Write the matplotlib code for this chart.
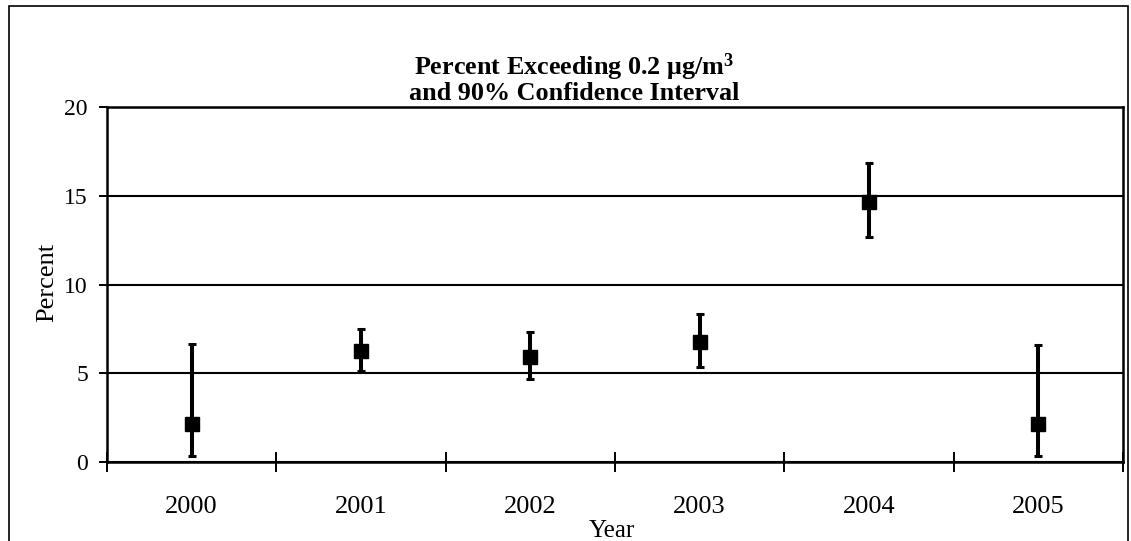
import matplotlib
matplotlib.use("Agg")
import matplotlib.pyplot as plt
from matplotlib.patches import Rectangle

years = ["2000", "2001", "2002", "2003", "2004", "2005"]
percent = [2.16, 6.25, 5.93, 6.79, 14.67, 2.14]
lower = [0.37, 5.16, 4.71, 5.38, 12.68, 0.37]
upper = [6.64, 7.48, 7.32, 8.36, 16.84, 6.62]

plt.rcParams['font.family'] = ['Liberation Serif', 'DejaVu Serif']
plt.rcParams['mathtext.default'] = 'regular'

W, H = 1131, 541
fig = plt.figure(figsize=(W / 100, H / 100), dpi=100)
ax = fig.add_axes([107 / W, 1 - 462.3 / H, 1016 / W, 355.3 / H])

x = list(range(len(years)))
yerr = [[p - l for p, l in zip(percent, lower)], [u - p for u, p in zip(upper, percent)]]
ax.errorbar(x, percent, yerr=yerr, fmt='s', color='black', ms=10, elinewidth=2.9,
            capsize=2.9, capthick=2.2, zorder=5)

ax.set_xlim(-0.5, len(years) - 0.5)
ax.set_ylim(0, 20)
ax.set_yticks([0, 5, 10, 15, 20])
ax.yaxis.grid(True, color='black', lw=1.5)
ax.set_axisbelow(True)

ax.set_xticks([i + 0.5 for i in range(-1, len(years))])
ax.set_xticklabels([])
ax.set_xticks(x, minor=True)
ax.set_xticklabels(years, minor=True, fontsize=19)
ax.tick_params(axis='x', which='major', direction='inout', length=14, width=1.4)
ax.tick_params(axis='x', which='minor', length=0, pad=24)
ax.tick_params(axis='y', direction='out', length=5.8, width=1.4, labelsize=17, pad=8)

for side in ['left', 'bottom', 'right', 'top']:
    ax.spines[side].set_linewidth(1.8)
    ax.spines[side].set_color('black')

ax.set_ylabel('Percent', fontsize=19, va='center', ha='center')
ax.yaxis.set_label_coords((47 - 107) / 1016, (462.3 - 282) / 355.3)
ax.set_xlabel('Year', fontsize=18, va='baseline', ha='center')
ax.xaxis.set_label_coords((612 - 107) / 1016, (462.3 - 537) / 355.3)

fig.text(574 / W, 1 - 75 / H, 'Percent Exceeding 0.2 μg/m$^3$', ha='center', va='baseline',
         fontsize=18.8, fontweight='bold')
fig.text(574.5 / W, 1 - 100 / H, 'and 90% Confidence Interval', ha='center', va='baseline',
         fontsize=18.8, fontweight='bold')

fig.patches.append(Rectangle((8.5 / W, -0.1), 1119 / W, 1.1 - 6 / H, transform=fig.transFigure,
                             fill=False, edgecolor='black', lw=1.2))

fig.savefig('out.png', dpi=100)
